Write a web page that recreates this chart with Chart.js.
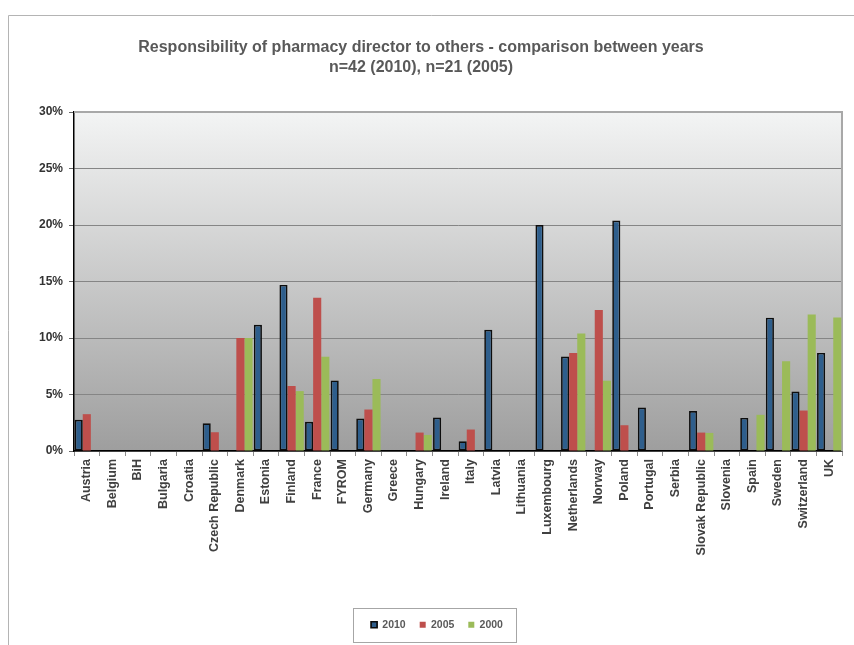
<!DOCTYPE html>
<html>
<head>
<meta charset="utf-8">
<script src="https://cdn.jsdelivr.net/npm/chart.js@4"></script>
<style>
  html, body { margin: 0; padding: 0; background: #ffffff; }
  #wrap { width: 854px; height: 645px; position: relative; }
</style>
</head>
<body>
<div id="wrap"><canvas id="c" width="854" height="645"></canvas></div>
<script>
const categories = ["Austria","Belgium","BiH","Bulgaria","Croatia","Czech Republic","Denmark","Estonia","Finland","France","FYROM","Germany","Greece","Hungary","Ireland","Italy","Latvia","Lithuania","Luxembourg","Netherlands","Norway","Poland","Portugal","Serbia","Slovak Republic","Slovenia","Spain","Sweden","Switzerland","UK"];
const values2010 = [2.76,0,0,0,0,2.46,0,11.17,14.7,2.58,6.25,2.87,0,0,2.96,0.86,10.73,0,20.0,8.36,0,20.4,3.85,0,3.53,0,2.93,11.8,5.27,8.68];
const values2005 = [3.26,0,0,0,0,1.66,10.0,0,5.75,13.57,0,3.67,0,1.63,0,1.9,0,0,0,8.68,12.47,2.28,0,0,1.63,0,0,0,3.58,0];
const values2000 = [0,0,0,0,0,0,10.0,0,5.3,8.33,0,6.37,0,1.42,0,0,0,0,0,10.4,6.22,0,0,0,1.6,0,3.2,7.94,12.09,11.82];
const seriesNames = ["2010","2005","2000"];
const yTicks = [0,5,10,15,20,25,30];
const titleLines = ["Responsibility of pharmacy director to others - comparison between years","n=42 (2010), n=21 (2005)"];

const FONT = "'Liberation Sans', Arial, sans-serif";

const decor = {
  id: 'decor',
  afterLayout(chart) {
    const lg = chart.legend;
    if (lg) { lg.left += 16; lg.right += 16; }
  },
  beforeDraw(chart) {
    const ctx = chart.ctx;
    const a = chart.chartArea;
    ctx.save();
    ctx.fillStyle = '#ffffff';
    ctx.fillRect(0, 0, chart.width, chart.height);
    // outer frame
    ctx.strokeStyle = '#b4b4b4';
    ctx.lineWidth = 1;
    ctx.beginPath();
    ctx.moveTo(8.5, chart.height);
    ctx.lineTo(8.5, 15.5);
    ctx.lineTo(chart.width, 15.5);
    ctx.stroke();
    // plot gradient
    const g = ctx.createLinearGradient(0, a.top, 0, a.bottom);
    g.addColorStop(0, '#f3f4f4');
    g.addColorStop(1, '#9e9e9e');
    ctx.fillStyle = g;
    ctx.fillRect(a.left, a.top, a.right - a.left, a.bottom - a.top);
    ctx.restore();
  },
  beforeDatasetsDraw(chart) {
    const ctx = chart.ctx;
    const a = chart.chartArea;
    ctx.save();
    ctx.strokeStyle = '#a8a8a8';
    ctx.lineWidth = 2;
    ctx.beginPath();
    ctx.moveTo(a.left, a.top);
    ctx.lineTo(a.right, a.top);
    ctx.lineTo(a.right, a.bottom);
    ctx.stroke();
    ctx.restore();
  },
  afterDraw(chart) {
    const lg = chart.legend;
    if (!lg || !lg.legendHitBoxes || !lg.legendHitBoxes.length) return;
    const hb = lg.legendHitBoxes;
    const first = hb[0], last = hb[hb.length - 1];
    const cy = first.top + first.height / 2;
    const ctx = chart.ctx;
    ctx.save();
    ctx.strokeStyle = '#a6a6a6';
    ctx.lineWidth = 1;
    const l = Math.round(first.left - 18), r = Math.round(last.left + last.width + 13);
    ctx.strokeRect(l + 0.5, Math.round(cy - 17) + 0.5, r - l, 34);
    ctx.restore();
  }
};

new Chart(document.getElementById('c'), {
  type: 'bar',
  data: {
    labels: categories,
    datasets: [
      { label: seriesNames[0], data: values2010, backgroundColor: '#2e5e8c', borderColor: '#0d0d0d', borderWidth: 1.7, borderSkipped: false },
      { label: seriesNames[1], data: values2005, backgroundColor: '#be4f4c', borderColor: '#be4f4c', borderWidth: 0 },
      { label: seriesNames[2], data: values2000, backgroundColor: '#9bbb59', borderColor: '#9bbb59', borderWidth: 0 }
    ]
  },
  options: {
    responsive: false,
    animation: false,
    devicePixelRatio: 1,
    layout: { padding: { left: 0, right: 12, top: 0, bottom: 5 } },
    datasets: { bar: { categoryPercentage: 0.95, barPercentage: 1.0 } },
    plugins: {
      title: {
        display: true,
        text: titleLines,
        color: '#595959',
        font: { family: FONT, size: 16, weight: 'bold', lineHeight: 1.25 },
        padding: { top: 38, bottom: 34 }
      },
      legend: {
        display: true,
        position: 'bottom',
        labels: {
          boxWidth: 6,
          boxHeight: 6,
          padding: 14,
          color: '#595959',
          font: { family: FONT, size: 10.5, weight: 'bold' }
        }
      },
      tooltip: { enabled: false }
    },
    scales: {
      x: {
        offset: true,
        grid: { display: true, offset: true, drawOnChartArea: false, drawTicks: true, tickLength: 5, color: '#8c8c8c' },
        border: { display: true, color: '#000000', width: 1.5 },
        ticks: {
          autoSkip: false,
          maxRotation: 90,
          minRotation: 90,
          padding: 3,
          color: '#404040',
          font: { family: FONT, size: 12.5, weight: 'bold' }
        },
        afterFit(scale) { scale.height = 154.5; }
      },
      y: {
        min: 0,
        max: 30,
        afterBuildTicks(scale) { scale.ticks = yTicks.map(v => ({ value: v })); },
        grid: { color: '#858585', lineWidth: 1, tickLength: 5, tickColor: '#666666' },
        border: { display: true, color: '#000000', width: 1.5 },
        ticks: {
          padding: 6,
          color: '#333333',
          font: { family: FONT, size: 12, weight: 'bold' },
          callback: v => v + '%'
        },
        afterFit(scale) { scale.width = 74; }
      }
    }
  },
  plugins: [decor]
});
</script>
</body>
</html>
